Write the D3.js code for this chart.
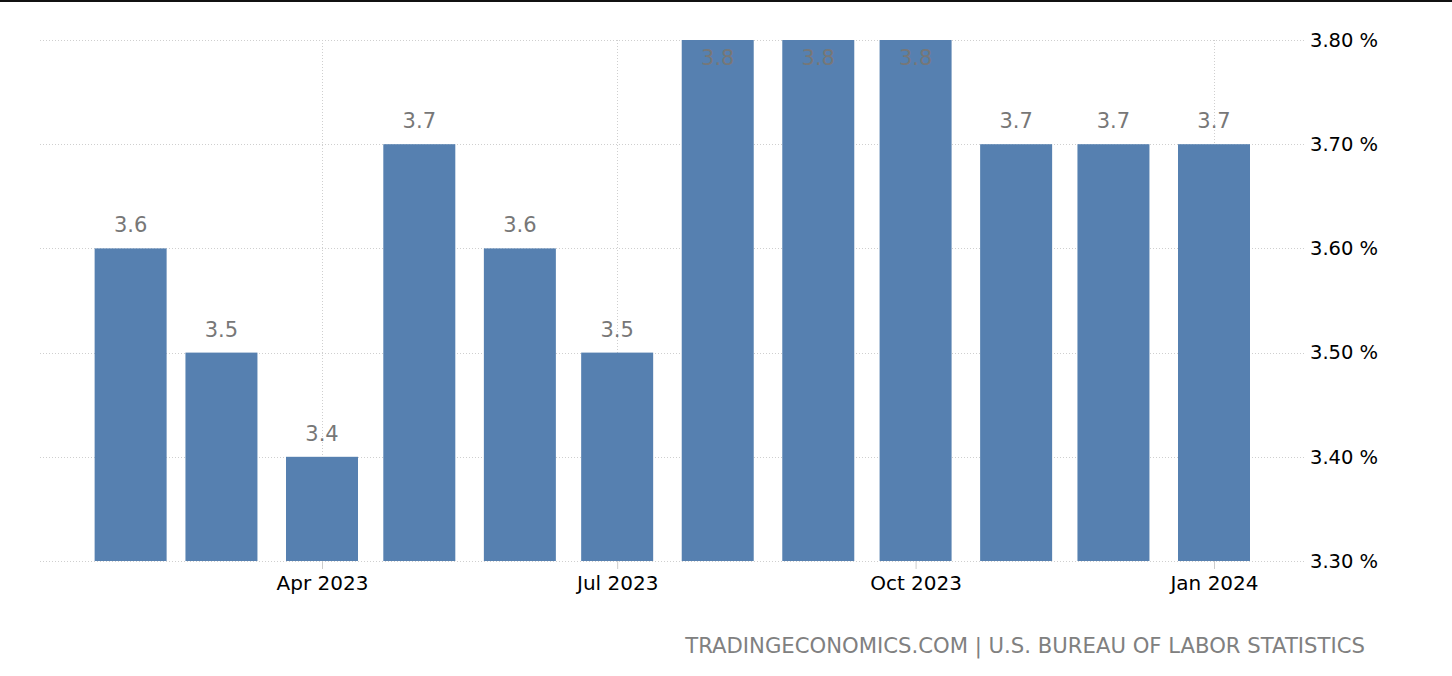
<!DOCTYPE html>
<html>
<head>
<meta charset="utf-8">
<script src="https://cdn.jsdelivr.net/npm/d3@7"></script>
<style>
  html, body { margin: 0; padding: 0; background: #fff; }
  svg { display: block; font-family: "DejaVu Sans", sans-serif; }
</style>
</head>
<body>
<div id="chart"></div>
<script>
// monthly unemployment rate, %
const months = ['2023-02', '2023-03', '2023-04', '2023-05', '2023-06', '2023-07',
                '2023-08', '2023-09', '2023-10', '2023-11', '2023-12', '2024-01'];
const rates = [3.6, 3.5, 3.4, 3.7, 3.6, 3.5, 3.8, 3.8, 3.8, 3.7, 3.7, 3.7];
const yTicks = [3.3, 3.4, 3.5, 3.6, 3.7, 3.8];
const xTicks = ['2023-04', '2023-07', '2023-10', '2024-01'];

const width = 1452;
const height = 676;
const font = '"DejaVu Sans", sans-serif';
const parse = d3.timeParse('%Y-%m');

const data = months.map((m, i) => ({ date: parse(m), value: rates[i] }));

const svg = d3.select('#chart')
    .append('svg')
    .attr('width', width)
    .attr('height', height)
    .attr('font-family', font);

// time scale anchored on Apr 2023 / Jan 2024 tick positions
const x = d3.scaleTime()
    .domain([parse('2023-04'), parse('2024-01')])
    .range([322, 1214]);

const y = d3.scaleLinear()
    .domain([3.3, 3.8])
    .range([561, 40]);

const barWidth = 72;

// top border
svg.append('rect')
    .attr('x', 0).attr('y', 0)
    .attr('width', width).attr('height', 2)
    .attr('fill', '#111');

// horizontal grid
svg.append('g')
    .selectAll('line')
    .data(yTicks)
    .join('line')
    .attr('x1', 40)
    .attr('x2', 1305)
    .attr('y1', d => Math.round(y(d)) + 0.5)
    .attr('y2', d => Math.round(y(d)) + 0.5)
    .attr('stroke', '#cfcfcf')
    .attr('stroke-dasharray', '1,2');

// vertical grid at x ticks
svg.append('g')
    .selectAll('line')
    .data(xTicks.map(parse))
    .join('line')
    .attr('x1', d => Math.round(x(d)) + 0.5)
    .attr('x2', d => Math.round(x(d)) + 0.5)
    .attr('y1', 40)
    .attr('y2', 561)
    .attr('stroke', '#cfcfcf')
    .attr('stroke-dasharray', '1,2');

// bars
svg.append('g')
    .selectAll('rect')
    .data(data)
    .join('rect')
    .attr('x', d => x(d.date) - barWidth / 2)
    .attr('y', d => y(d.value))
    .attr('width', barWidth)
    .attr('height', d => y(3.3) - y(d.value))
    .attr('fill', '#5680b0');

// value labels (inside bar when no room on top)
svg.append('g')
    .selectAll('text')
    .data(data)
    .join('text')
    .attr('x', d => x(d.date))
    .attr('y', d => y(d.value) - 40 < 40 ? y(d.value) + 25 : y(d.value) - 16)
    .attr('text-anchor', 'middle')
    .attr('font-size', '21px')
    .attr('fill', '#777')
    .text(d => d3.format('.1f')(d.value));

// x axis
const xAxis = svg.append('g')
    .attr('transform', `translate(0,${y(3.3)})`)
    .call(d3.axisBottom(x)
        .tickValues(xTicks.map(parse))
        .tickFormat(d3.timeFormat('%b %Y'))
        .tickSize(8)
        .tickPadding(7))
    .attr('font-family', font)
    .attr('font-size', 20);
xAxis.select('.domain').remove();
xAxis.selectAll('line').attr('stroke', '#ccc');
xAxis.selectAll('text').attr('fill', '#000');

// y axis on the right
const yAxis = svg.append('g')
    .attr('transform', 'translate(1310,0)')
    .call(d3.axisRight(y)
        .tickValues(yTicks)
        .tickFormat(d => d3.format('.2f')(d) + ' %')
        .tickSize(0)
        .tickPadding(0))
    .attr('font-family', font)
    .attr('font-size', 19.5);
yAxis.select('.domain').remove();
yAxis.selectAll('text').attr('fill', '#000');

// source
svg.append('text')
    .attr('x', 1365)
    .attr('y', 653)
    .attr('text-anchor', 'end')
    .attr('font-size', '21.2px')
    .attr('fill', '#808080')
    .text('TRADINGECONOMICS.COM | U.S. BUREAU OF LABOR STATISTICS');
</script>
</body>
</html>
